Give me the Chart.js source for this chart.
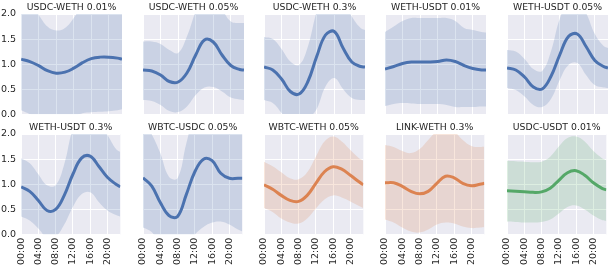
<!DOCTYPE html>
<html><head><meta charset="utf-8">
<script src="https://cdn.jsdelivr.net/npm/chart.js@4/dist/chart.umd.min.js"></script>
<style>
html,body{margin:0;padding:0;background:#fff;width:611px;height:268px;overflow:hidden;position:relative}
canvas{position:absolute}
</style></head><body>
<script>
const hours = [0,2,4,6,8,10,12,14,16,18,20,22,23];
const xTickHours = [0,4,8,12,16,20];
const xTickLabels = ['00:00','04:00','08:00','12:00','16:00','20:00'];
const yTicks = [0,0.5,1,1.5,2];
const titles = ['USDC-WETH 0.01%','USDC-WETH 0.05%','USDC-WETH 0.3%','WETH-USDT 0.01%','WETH-USDT 0.05%',
                'WETH-USDT 0.3%','WBTC-USDC 0.05%','WBTC-WETH 0.05%','LINK-WETH 0.3%','USDC-USDT 0.01%'];
const panelColors = ['#4C72B0','#4C72B0','#4C72B0','#4C72B0','#4C72B0','#4C72B0','#4C72B0','#DD8452','#DD8452','#55A868'];

const mean1 = [1.10,1.05,0.97,0.87,0.82,0.84,0.92,1.03,1.11,1.14,1.14,1.12,1.10];
const hi1   = [2.40,2.20,1.98,1.75,1.67,1.72,1.92,2.20,2.40,2.50,2.50,2.50,2.50];
const lo1   = [0.08,0.00,-0.10,-0.20,-0.20,-0.15,-0.05,0.02,0.04,0.05,0.06,0.08,0.10];

const mean2 = [0.88,0.86,0.78,0.65,0.64,0.82,1.18,1.48,1.44,1.18,0.97,0.89,0.88];
const hi2   = [1.45,1.45,1.40,1.28,1.22,1.55,2.05,2.40,2.40,2.10,1.85,1.82,1.82];
const lo2   = [0.28,0.26,0.18,0.06,0.04,0.15,0.38,0.53,0.54,0.45,0.33,0.29,0.28];

const mean3 = [0.94,0.88,0.70,0.45,0.40,0.65,1.15,1.58,1.65,1.32,1.04,0.95,0.94];
const hi3   = [1.54,1.50,1.30,1.05,0.98,1.35,2.05,2.50,2.50,2.30,1.95,1.72,1.68];
const lo3   = [0.28,0.22,0.02,-0.20,-0.25,-0.10,0.10,0.55,0.72,0.50,0.32,0.28,0.28];

const mean4 = [0.90,0.95,1.01,1.04,1.04,1.04,1.05,1.08,1.05,0.97,0.91,0.88,0.88];
const hi4   = [1.64,1.75,1.86,1.92,1.92,1.92,1.92,1.92,1.86,1.72,1.68,1.64,1.63];
const lo4   = [0.16,0.20,0.22,0.21,0.20,0.20,0.20,0.18,0.14,0.14,0.14,0.15,0.15];

const mean5 = [0.92,0.88,0.74,0.54,0.50,0.75,1.18,1.55,1.60,1.35,1.07,0.95,0.92];
const hi5   = [1.28,1.25,1.10,0.90,0.86,1.25,1.90,2.25,2.25,2.02,1.60,1.36,1.32];
const lo5   = [0.52,0.48,0.35,0.18,0.14,0.30,0.68,0.98,1.02,0.78,0.58,0.53,0.52];

const mean6 = [0.95,0.86,0.68,0.48,0.50,0.78,1.20,1.52,1.56,1.36,1.14,1.00,0.95];
const hi6   = [1.52,1.42,1.20,0.98,0.98,1.40,2.10,2.40,2.40,2.20,1.98,1.70,1.64];
const lo6   = [0.36,0.28,0.12,-0.06,-0.04,0.20,0.55,0.80,0.84,0.65,0.48,0.39,0.36];

const mean7 = [1.13,0.97,0.64,0.38,0.36,0.79,1.25,1.50,1.47,1.22,1.12,1.12,1.12];
const hi7   = [2.30,2.00,1.62,1.15,1.12,1.80,2.40,2.60,2.60,2.60,2.50,2.40,2.40];
const lo7   = [0.14,0.05,-0.20,-0.50,-0.50,-0.20,0.00,0.15,0.24,0.26,0.20,0.10,0.06];

const mean8 = [0.99,0.90,0.78,0.68,0.66,0.78,1.02,1.25,1.35,1.30,1.18,1.05,0.99];
const hi8   = [1.45,1.36,1.24,1.12,1.10,1.24,1.55,1.85,1.95,1.85,1.68,1.52,1.47];
const lo8   = [0.53,0.45,0.32,0.24,0.22,0.32,0.52,0.70,0.78,0.74,0.66,0.57,0.53];

const mean9 = [1.03,1.03,0.96,0.86,0.81,0.86,1.02,1.16,1.13,1.02,0.97,1.00,1.02];
const hi9   = [1.78,1.74,1.66,1.62,1.70,1.88,2.05,2.10,2.05,1.88,1.76,1.74,1.75];
const lo9   = [0.30,0.24,0.14,0.06,0.04,0.10,0.20,0.24,0.22,0.16,0.13,0.14,0.15];

const mean10 = [0.87,0.86,0.85,0.84,0.85,0.92,1.08,1.23,1.27,1.18,1.03,0.92,0.89];
const hi10   = [1.47,1.46,1.45,1.44,1.45,1.55,1.75,1.92,1.95,1.85,1.66,1.52,1.48];
const lo10   = [0.26,0.25,0.24,0.24,0.25,0.30,0.42,0.55,0.58,0.50,0.38,0.29,0.27];

const means = [mean1,mean2,mean3,mean4,mean5,mean6,mean7,mean8,mean9,mean10];
const his = [hi1,hi2,hi3,hi4,hi5,hi6,hi7,hi8,hi9,hi10];
const los = [lo1,lo2,lo3,lo4,lo5,lo6,lo7,lo8,lo9,lo10];

const colLefts = [21,143,264,385,507];
const rowTops = [14,134];
const rowHeights = [100,101];
const plotW = 101;

Chart.defaults.font.family = "'DejaVu Sans', sans-serif";
Chart.defaults.color = '#262626';

const bgPlugin = { id:'bg', beforeDraw(chart){ const a = chart.chartArea, ctx = chart.ctx;
  ctx.save(); ctx.fillStyle = '#EAEAF2'; ctx.fillRect(a.left, a.top, a.width, a.height); ctx.restore(); } };

function rgba(hex, a){ const n = parseInt(hex.slice(1),16); return `rgba(${n>>16},${(n>>8)&255},${n&255},${a})`; }
function pts(arr){ return arr.map((v,i)=>({x:hours[i], y:v})); }

function build(i, w, h){
  const row = Math.floor(i/5), col = i%5;
  const c = document.createElement('canvas');
  c.width = w; c.height = h;
  document.body.appendChild(c);
  const color = panelColors[i];
  const chart = new Chart(c, {
    type:'line',
    data:{ datasets:[
      { data:pts(his[i]), borderWidth:0, pointRadius:0, fill:'+1', backgroundColor:rgba(color,0.2), tension:0.4 },
      { data:pts(los[i]), borderWidth:0, pointRadius:0, fill:false, tension:0.4 },
      { data:pts(means[i]), borderColor:color, borderWidth:3, pointRadius:0, fill:false, tension:0.4, borderCapStyle:'butt' }
    ]},
    options:{
      responsive:false, animation:false, devicePixelRatio:1,
      layout:{ padding:0 },
      plugins:{ legend:{display:false}, tooltip:{enabled:false},
        title:{ display:true, text:titles[i], fullSize:false, color:'#262626',
          font:{ size:9.3, weight:'normal', lineHeight:'11px' }, padding:{top:2,bottom:1} } },
      scales:{
        x:{ type:'linear', min:0, max:23,
          afterBuildTicks(s){ s.ticks = xTickHours.map(v=>({value:v})); },
          grid:{ color:'#ffffff', lineWidth:1, drawTicks:false },
          border:{ display:false },
          ticks:{ display: row===1, autoSkip:false, minRotation:90, maxRotation:90, padding:3,
            font:{ size:9.5 }, color:'#262626',
            callback(v){ const k = xTickHours.indexOf(v); return k>=0 ? xTickLabels[k] : ''; } } },
        y:{ min:0, max:2,
          afterBuildTicks(s){ s.ticks = yTicks.map(v=>({value:v})); },
          afterFit(s){ if (col>0) s.width = 16; },
          grid:{ color:'#ffffff', lineWidth:1, drawTicks:false },
          border:{ display:false },
          ticks:{ display: col===0, padding:5, font:{ size:9.5 }, color:'#262626',
            callback(v){ return Number(v).toFixed(1); } } }
      }
    },
    plugins:[bgPlugin]
  });
  return {c, chart};
}

function makePanel(i){
  const row = Math.floor(i/5), col = i%5;
  let w = 140, h = 160;
  let r = build(i, w, h);
  let a = r.chart.chartArea;
  // fit canvas so that chart area has the target size
  w = Math.round(w - (a.right - a.left) + plotW);
  h = Math.round(h - (a.bottom - a.top) + rowHeights[row]);
  r.chart.destroy(); r.c.remove();
  r = build(i, w, h);
  a = r.chart.chartArea;
  r.c.style.left = Math.round(colLefts[col] - a.left) + 'px';
  r.c.style.top = Math.round(rowTops[row] - a.top) + 'px';
}
for (let i=0;i<10;i++) makePanel(i);
</script>
</body></html>
